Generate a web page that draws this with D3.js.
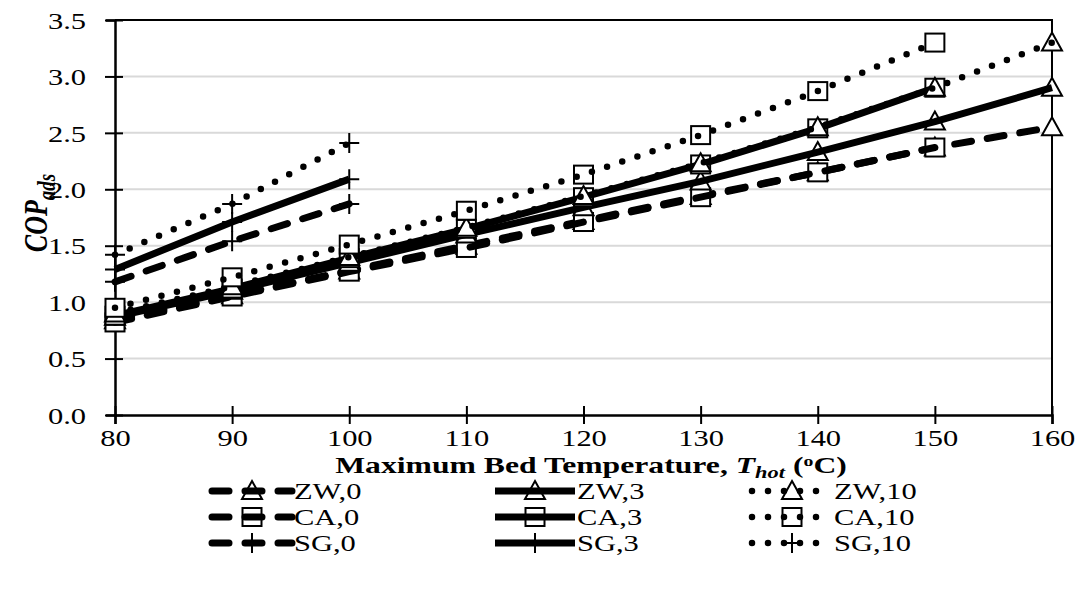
<!DOCTYPE html>
<html>
<head>
<meta charset="utf-8">
<script src="https://cdn.jsdelivr.net/npm/d3@7"></script>
<style>
  body { margin: 0; background: #fff; }
  text { font-family: "Liberation Serif", "Times New Roman", serif; fill: #000; }
</style>
</head>
<body>
<svg id="chart" width="1085" height="607"></svg>
<script>
// temperatures (x) and COP values
var temps = [80, 90, 100, 110, 120, 130, 140, 150, 160];
var zw0  = [0.84, 1.06, 1.28, 1.50, 1.72, 1.94, 2.15, 2.37, 2.55];
var zw3  = [0.87, 1.10, 1.35, 1.60, 1.84, 2.07, 2.33, 2.60, 2.90];
var zw10 = [0.90, 1.14, 1.40, 1.66, 1.94, 2.23, 2.55, 2.90, 3.30];
var ca0  = [0.82, 1.05, 1.27, 1.48, 1.71, 1.93, 2.15, 2.37];
var ca3  = [0.88, 1.12, 1.39, 1.65, 1.93, 2.22, 2.54, 2.90];
var ca10 = [0.95, 1.22, 1.51, 1.81, 2.13, 2.48, 2.87, 3.30];
var sg0  = [1.18, 1.54, 1.87];
var sg3  = [1.29, 1.71, 2.09];
var sg10 = [1.42, 1.87, 2.41];

var xTicks = [80, 90, 100, 110, 120, 130, 140, 150, 160];
var yTicks = [0, 0.5, 1, 1.5, 2, 2.5, 3, 3.5];

// series in legend order (column by column)
var series = [
    { name: "ZW,0",  values: zw0,  dash: "dash", marker: "triangle" },
    { name: "CA,0",  values: ca0,  dash: "dash", marker: "square" },
    { name: "SG,0",  values: sg0,  dash: "dash", marker: "plus" },
    { name: "ZW,3",  values: zw3,  dash: "solid", marker: "triangle" },
    { name: "CA,3",  values: ca3,  dash: "solid", marker: "square" },
    { name: "SG,3",  values: sg3,  dash: "solid", marker: "plus" },
    { name: "ZW,10", values: zw10, dash: "dot", marker: "triangle" },
    { name: "CA,10", values: ca10, dash: "dot", marker: "square" },
    { name: "SG,10", values: sg10, dash: "dot", marker: "plus" }
];

var SX = 1.27;   // the original picture is stretched sideways

var svg = d3.select("#chart");

var x = d3.scaleLinear().domain([80, 160]).range([115, 1052]);
var y = d3.scaleLinear().domain([0, 3.5]).range([415, 20]);

// gridlines
svg.append("g")
    .selectAll("line")
    .data(yTicks.filter(function (d) { return d > 0; }))
    .enter().append("line")
    .attr("x1", x(80)).attr("x2", x(160))
    .attr("y1", function (d) { return y(d); })
    .attr("y2", function (d) { return y(d); })
    .attr("stroke", "#d9d9d9")
    .attr("stroke-width", 2);

// top and right frame
svg.append("path")
    .attr("d", "M" + x(80) + "," + y(3.5) + "H" + x(160) + "V" + y(0))
    .attr("fill", "none")
    .attr("stroke", "#000")
    .attr("stroke-width", 2);

// X Axis
var gx = svg.append("g")
    .attr("transform", "translate(0," + y(0) + ")")
    .call(d3.axisBottom(x).tickValues(xTicks).tickSize(9).tickFormat(d3.format("d")));

// Y Axis
var gy = svg.append("g")
    .attr("transform", "translate(" + x(80) + ",0)")
    .call(d3.axisLeft(y).tickValues(yTicks).tickSize(9).tickFormat(d3.format(".1f")));

[gx, gy].forEach(function (g) {
    g.select(".domain").attr("stroke", "#000").attr("stroke-width", 2.5);
    g.selectAll(".tick line").attr("stroke", "#000").attr("stroke-width", 2);
    g.selectAll(".tick text")
        .attr("font-family", "Liberation Serif")
        .attr("font-size", 24)
        .attr("fill", "#000");
});
gx.selectAll(".tick line").attr("y1", -9).attr("y2", 9);
gx.selectAll(".tick text").attr("y", 31).attr("dy", 0)
    .attr("transform", "scale(" + SX + ",1)");
gy.selectAll(".tick line").attr("x1", -10).attr("x2", 8);
gy.selectAll(".tick text").attr("x", -29 / SX).attr("dy", "0.34em")
    .attr("transform", "scale(" + SX + ",1)");

// line styles
function styleLine(sel, dash) {
    sel.attr("fill", "none")
        .attr("stroke", "#000")
        .attr("stroke-linejoin", "round");
    if (dash === "solid") {
        sel.attr("stroke-width", 7);
    } else if (dash === "dash") {
        sel.attr("stroke-width", 7)
            .attr("stroke-linecap", "round")
            .attr("stroke-dasharray", "17 16");
    } else {
        sel.attr("stroke-width", 6.5)
            .attr("stroke-linecap", "round")
            .attr("stroke-dasharray", "0 16");
    }
}

function drawMarker(g, type, cx, cy) {
    if (type === "triangle") {
        g.append("path")
            .attr("d", "M" + cx + "," + (cy - 10) + "L" + (cx + 10) + "," + (cy + 8) +
                "L" + (cx - 10) + "," + (cy + 8) + "Z")
            .attr("fill", "#fff").attr("stroke", "#000").attr("stroke-width", 2);
    } else if (type === "square") {
        g.append("rect")
            .attr("x", cx - 9.5).attr("y", cy - 9)
            .attr("width", 19).attr("height", 18)
            .attr("fill", "#fff").attr("stroke", "#000").attr("stroke-width", 2);
    } else {
        g.append("path")
            .attr("d", "M" + (cx - 10) + "," + cy + "H" + (cx + 10) +
                "M" + cx + "," + (cy - 10) + "V" + (cy + 10))
            .attr("fill", "none").attr("stroke", "#000").attr("stroke-width", 2);
    }
}

var line = d3.line()
    .x(function (d) { return x(d.t); })
    .y(function (d) { return y(d.v); });

series.forEach(function (s) {
    var pts = s.values.map(function (v, i) { return { t: temps[i], v: v }; });
    var g = svg.append("g").attr("class", "series");
    pts.forEach(function (p) { drawMarker(g, s.marker, x(p.t), y(p.v)); });
    g.append("path").datum(pts).attr("d", line).call(styleLine, s.dash);
});

// Axis titles
var xt = svg.append("text")
    .attr("transform", "translate(591,473) scale(1.32,1)")
    .attr("text-anchor", "middle")
    .attr("font-size", 24)
    .attr("font-weight", "bold");
xt.append("tspan").text("Maximum Bed Temperature, ");
xt.append("tspan").attr("font-style", "italic").text("T");
xt.append("tspan").attr("font-style", "italic").attr("font-size", 17).attr("dy", 5).text("hot");
xt.append("tspan").attr("dy", -5).text(" (");
xt.append("tspan").attr("font-size", 15).attr("dy", -7).text("o");
xt.append("tspan").attr("dy", 7).text("C)");

var yt = svg.append("text")
    .attr("transform", "translate(47,213) rotate(-90) scale(1," + SX + ")")
    .attr("text-anchor", "middle")
    .attr("font-size", 26)
    .attr("font-weight", "bold")
    .attr("font-style", "italic");
yt.append("tspan").text("COP");
yt.append("tspan").attr("font-size", 19).attr("dy", 6).text("ads");

// Legend
var legCols = [212, 495, 752];
var legRows = [491, 517, 543];
var legLen = 80;

series.forEach(function (s, i) {
    var col = Math.floor(i / 3), row = i % 3;
    var lx = legCols[col], ly = legRows[row];
    var g = svg.append("g").attr("class", "legend");
    drawMarker(g, s.marker, lx + legLen / 2, ly);
    g.append("path")
        .attr("d", "M" + lx + "," + ly + "H" + (lx + legLen))
        .call(styleLine, s.dash);
    g.append("text")
        .attr("transform", "translate(" + (lx + legLen + 2) + "," + (ly + 8) + ") scale(" + SX + ",1)")
        .attr("font-size", 24)
        .text(s.name);
});
</script>
</body>
</html>
